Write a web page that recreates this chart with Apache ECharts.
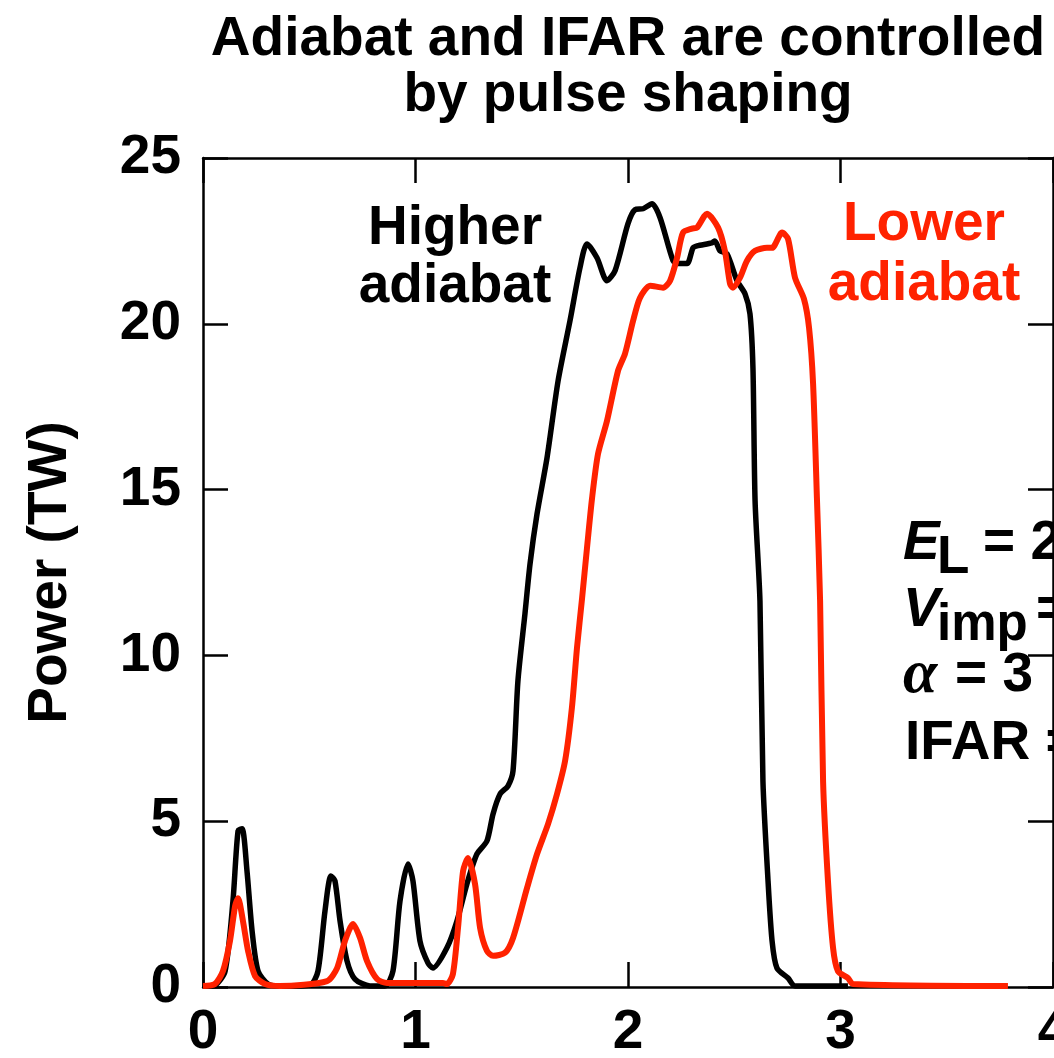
<!DOCTYPE html>
<html lang="en">

<head>
    <meta charset="UTF-8">
    <title>Adiabat and IFAR are controlled by pulse shaping</title>
    <script type="text/javascript" src="https://cdn.jsdelivr.net/npm/echarts@6/dist/echarts.min.js"></script>
    <style>
        html,
        body {
            margin: 0;
            padding: 0;
            background: #fff;
        }

        #main {
            width: 1054px;
            height: 1058px;
        }
    </style>
</head>

<body>
    <div id="main"></div>

    <script type="text/javascript">
        // time (ns) and power (TW)
        var highT = [0, 0.056, 0.104, 0.141, 0.165, 0.184, 0.207, 0.231, 0.259, 0.306, 0.362,
            0.504, 0.541, 0.574, 0.602, 0.621, 0.645, 0.678, 0.715, 0.786,
            0.856, 0.894, 0.927, 0.965, 0.988, 1.021, 1.059, 1.082,
            1.148, 1.195, 1.242, 1.289, 1.336, 1.365, 1.398, 1.435, 1.459, 1.482, 1.515, 1.539,
            1.572, 1.619, 1.671, 1.727, 1.774, 1.807, 1.854, 1.901, 1.939, 2.000, 2.033, 2.071,
            2.113, 2.151, 2.212, 2.235, 2.278, 2.306, 2.325, 2.395, 2.409, 2.433, 2.466, 2.513,
            2.551, 2.574, 2.588, 2.598, 2.621, 2.635, 2.659, 2.678, 2.701, 2.753, 2.786, 3.035];
        var highP = [0.03, 0.06, 0.48, 2.59, 4.71, 4.77, 3.50, 1.69, 0.48, 0.09, 0.03,
            0.06, 0.48, 2.29, 3.35, 3.20, 1.99, 0.78, 0.24, 0.03,
            0.03, 0.48, 2.59, 3.71, 3.20, 1.39, 0.72, 0.57,
            1.18, 1.99, 3.11, 4.01, 4.40, 5.22, 5.82, 6.06, 6.52, 9.23, 11.25, 12.76,
            14.27, 15.96, 18.28, 20.09, 21.69, 22.41, 21.99, 21.30, 21.60, 23.02, 23.44, 23.47,
            23.62, 23.20, 21.90, 21.82, 21.82, 22.29, 22.35, 22.44, 22.50, 22.20, 22.11, 21.30,
            20.90, 20.30, 18.67, 14.66, 11.64, 6.21, 3.20, 1.39, 0.57, 0.27, 0.03, 0.03];

        var lowT = [0, 0.056, 0.094, 0.127, 0.151, 0.165, 0.188, 0.212, 0.245, 0.292, 0.362,
            0.584, 0.631, 0.668, 0.706, 0.739, 0.772, 0.819, 0.866, 1.129,
            1.148, 1.176, 1.200, 1.224, 1.247, 1.280, 1.304, 1.336, 1.365, 1.421, 1.459,
            1.525, 1.572, 1.624, 1.666, 1.704, 1.736, 1.760, 1.784, 1.807, 1.831, 1.859,
            1.901, 1.953, 1.986, 2.024, 2.056, 2.104, 2.165, 2.198, 2.231, 2.259, 2.301, 2.325,
            2.372, 2.424, 2.456, 2.480, 2.494, 2.527, 2.560, 2.598, 2.654, 2.678, 2.725, 2.753,
            2.786, 2.828, 2.852, 2.871, 2.889, 2.904, 2.918, 2.941, 2.965, 2.988, 3.035, 3.059, 3.788];
        var lowP = [0.03, 0.09, 0.48, 1.39, 2.44, 2.68, 1.99, 1.09, 0.33, 0.09, 0.03,
            0.18, 0.57, 1.39, 1.90, 1.48, 0.78, 0.24, 0.12, 0.12,
            0.09, 0.39, 1.78, 3.50, 3.89, 3.11, 1.78, 1.09, 0.94, 1.03, 1.48,
            2.99, 4.01, 4.92, 5.82, 6.82, 8.42, 10.23, 11.73, 13.24, 14.75, 16.08,
            17.07, 18.58, 19.10, 20.09, 20.78, 21.15, 21.09, 21.30, 21.99, 22.75, 22.87, 22.90,
            23.32, 22.90, 22.20, 21.21, 21.09, 21.39, 21.90, 22.20, 22.29, 22.29, 22.75, 22.56,
            21.39, 20.75, 19.88, 18.19, 14.75, 11.64, 6.21, 3.20, 1.18, 0.48, 0.27, 0.09, 0.03];

        var titleLines = ['Adiabat and IFAR are controlled', 'by pulse shaping'];
        var yName = 'Power (TW)';

        function pairs(xs, ys) {
            var out = [];
            for (var i = 0; i < xs.length; i++) {
                out.push([xs[i], ys[i]]);
            }
            return out;
        }

        var FONT = "'Liberation Sans', Arial, Helvetica, sans-serif";
        var RED = '#ff2200';

        var myChart = echarts.init(document.getElementById('main'));

        var boxAxis = {
            type: 'value',
            axisLine: { show: true, onZero: false, lineStyle: { color: '#000', width: 2.5 } },
            axisTick: { show: true, inside: true, length: 25, lineStyle: { color: '#000', width: 2.5 } },
            splitLine: { show: false }
        };

        // plain bold text
        function txt(text, x, y, color, align, extra) {
            var style = {
                text: text,
                fill: color || '#000',
                font: (extra || 'bold 55px ') + FONT,
                align: align || 'center',
                verticalAlign: 'middle'
            };
            return { type: 'text', x: x, y: y, style: style };
        }

        var option = {
            animation: false,
            backgroundColor: '#fff',
            grid: {
                left: 203,
                right: 1,
                top: 158,
                bottom: 71,
                containLabel: false,
                outerBoundsMode: 'none'
            },
            xAxis: [
                Object.assign({}, boxAxis, {
                    min: 0,
                    max: 4,
                    interval: 1,
                    position: 'bottom',
                    axisLabel: {
                        show: true,
                        margin: 18,
                        color: '#000',
                        fontSize: 55,
                        fontWeight: 'bold',
                        fontFamily: FONT,
                        showMaxLabel: true
                    }
                }),
                Object.assign({}, boxAxis, {
                    min: 0,
                    max: 4,
                    interval: 1,
                    position: 'top',
                    axisLabel: { show: false }
                })
            ],
            yAxis: [
                Object.assign({}, boxAxis, {
                    min: 0,
                    max: 25,
                    interval: 5,
                    position: 'left',
                    name: yName,
                    nameLocation: 'middle',
                    nameGap: 125,
                    nameTextStyle: {
                        color: '#000',
                        fontSize: 55,
                        fontWeight: 'bold',
                        fontFamily: FONT
                    },
                    axisLabel: {
                        show: true,
                        margin: 22,
                        color: '#000',
                        fontSize: 55,
                        fontWeight: 'bold',
                        fontFamily: FONT
                    }
                }),
                Object.assign({}, boxAxis, {
                    min: 0,
                    max: 25,
                    interval: 5,
                    position: 'right',
                    axisLabel: { show: false }
                })
            ],
            graphic: [
                txt(titleLines[0], 628, 40),
                txt(titleLines[1], 628, 96),
                txt('Higher', 455, 229),
                txt('adiabat', 455, 287),
                txt('Lower', 924, 225, RED),
                txt('adiabat', 924, 285, RED),
                // E_L = 2
                txt('E', 903, 544, '#000', 'left', 'italic bold 55px '),
                txt('L', 937, 558, '#000', 'left', 'bold 53px '),
                txt('= 2', 983, 544, '#000', 'left'),
                // V_imp =
                txt('V', 903, 611, '#000', 'left', 'italic bold 55px '),
                txt('imp', 937, 626, '#000', 'left', 'bold 51px '),
                txt('=', 1036, 611, '#000', 'left'),
                // alpha = 3
                {
                    type: 'text',
                    x: 903,
                    y: 676,
                    style: {
                        text: 'α',
                        fill: '#000',
                        font: "italic bold 62px 'Liberation Serif', 'DejaVu Serif', serif",
                        align: 'left',
                        verticalAlign: 'middle'
                    }
                },
                txt('= 3', 955, 676, '#000', 'left'),
                txt('IFAR =', 905, 744, '#000', 'left')
            ],
            series: [
                {
                    name: 'Higher adiabat',
                    type: 'line',
                    xAxisIndex: 0,
                    yAxisIndex: 0,
                    smooth: 0.25,
                    showSymbol: false,
                    lineStyle: { color: '#000', width: 5.5 },
                    data: pairs(highT, highP)
                },
                {
                    name: 'Lower adiabat',
                    type: 'line',
                    xAxisIndex: 0,
                    yAxisIndex: 0,
                    smooth: 0.25,
                    showSymbol: false,
                    lineStyle: { color: RED, width: 6 },
                    data: pairs(lowT, lowP)
                }
            ]
        };

        myChart.setOption(option);
    </script>
</body>

</html>
